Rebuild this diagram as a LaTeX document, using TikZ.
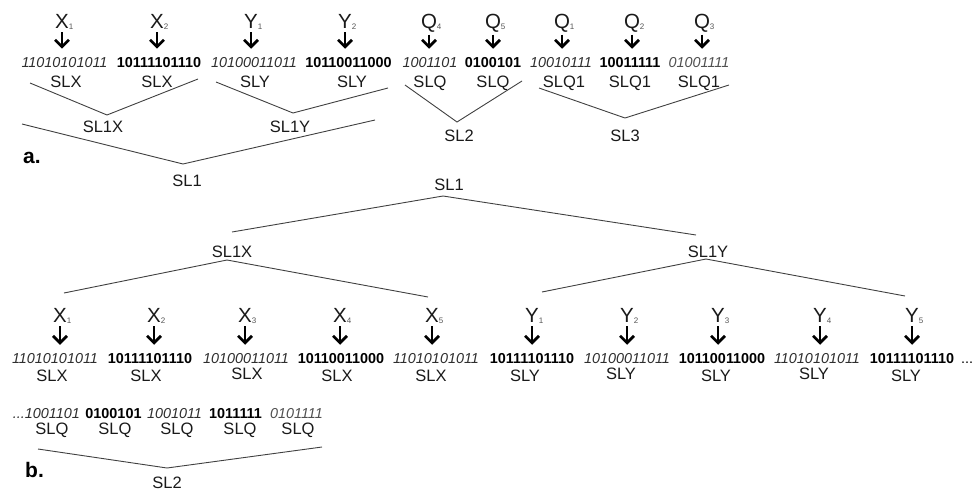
\documentclass[tikz,border=0pt]{standalone}
\usepackage{fontspec}
\setmainfont{Liberation Sans}
\usetikzlibrary{arrows.meta}
\definecolor{lblc}{HTML}{1A1A1A}
\definecolor{itc}{HTML}{2E2E2E}
\definecolor{itl}{HTML}{505050}
\definecolor{linec}{HTML}{404040}
\definecolor{subc}{HTML}{555555}
\newcommand{\vsub}[2]{#1\rlap{\raisebox{-1.5pt}{\textcolor{subc}{\fontsize{8}{8}\selectfont #2}}}}
\tikzset{
  lbl/.style={inner sep=0pt, anchor=base, text=lblc, font=\fontsize{16.5}{18}\selectfont},
  bitsi/.style={inner sep=0pt, anchor=base, text=itc, font=\fontsize{14.4}{16}\selectfont\itshape},
  bitsl/.style={bitsi, text=itl},
  bitsb/.style={inner sep=0pt, anchor=base, text=black, font=\fontsize{14.4}{16}\selectfont\bfseries},
  varlbl/.style={inner sep=0pt, anchor=base, text=lblc, font=\fontsize{20.5}{22}\selectfont},
  downarr/.style={line width=2.7pt, -{Straight Barb[length=7pt,width=14pt]}, shorten <=2.5pt, shorten >=8pt},
  link/.style={draw=linec, line width=0.9pt},
  panel/.style={inner sep=0pt, anchor=base west, font=\fontsize{21}{22}\selectfont\bfseries}
}
\begin{document}
\begin{tikzpicture}[x=1pt,y=-1pt]
\useasboundingbox (0,0) rectangle (976,490);
% ---------------- panel a ----------------
\node[varlbl] (va1) at (62,28) {\vsub{X}{1}};
\node[varlbl] (va2) at (157,28) {\vsub{X}{2}};
\node[varlbl] (va3) at (251,28) {\vsub{Y}{1}};
\node[varlbl] (va4) at (345,28) {\vsub{Y}{2}};
\node[varlbl] (va5) at (429,28) {\vsub{Q}{4}};
\node[varlbl] (va6) at (493,28) {\vsub{Q}{5}};
\node[varlbl] (va7) at (562,28) {\vsub{Q}{1}};
\node[varlbl] (va8) at (632,28) {\vsub{Q}{2}};
\node[varlbl] (va9) at (702,28) {\vsub{Q}{3}};

\node[bitsi] (ba1) at (64.5,67) {11010101011};
\node[bitsb] (ba2) at (159,67) {10111101110};
\node[bitsi] (ba3) at (254,67) {10100011011};
\node[bitsb] (ba4) at (348.5,67) {10110011000};
\node[bitsi] (ba5) at (430,67) {1001101};
\node[bitsb] (ba6) at (493,67) {0100101};
\node[bitsi] (ba7) at (561,67) {10010111};
\node[bitsb] (ba8) at (630,67) {10011111};
\node[bitsl] (ba9) at (699,67) {01001111};

\foreach \i in {1,...,9}{
  \draw[downarr] (va\i.south) -- (va\i.south |- ba\i.north);
}

\node[lbl] (la1) at (66,87) {SLX};
\node[lbl] (la2) at (157,87) {SLX};
\node[lbl] (la3) at (255,87) {SLY};
\node[lbl] (la4) at (352,87) {SLY};
\node[lbl] (la5) at (430,87) {SLQ};
\node[lbl] (la6) at (493,87) {SLQ};
\node[lbl] (la7) at (564,87) {SLQ1};
\node[lbl] (la8) at (630,87) {SLQ1};
\node[lbl] (la9) at (699,87) {SLQ1};

\draw[link] (30,83) -- (107,115) -- (198,79);
\draw[link] (216,82) -- (293,113) -- (388,88);
\draw[link] (22,124) -- (183,164) -- (375,120);
\draw[link] (405,85) -- (457,122) -- (522,81);
\draw[link] (539,88) -- (625,118) -- (729,85);

\node[lbl] (sl1x) at (103,132) {SL1X};
\node[lbl] (sl1y) at (290,132) {SL1Y};
\node[lbl] (sl2a) at (459,141) {SL2};
\node[lbl] (sl3a) at (625,141) {SL3};
\node[lbl] (sl1a) at (187,186) {SL1};
\node[panel] (pa) at (23,163) {a.};

% ---------------- panel b ----------------
\node[lbl] (sl1b) at (449,190) {SL1};
\node[lbl] (sl1xb) at (232,257) {SL1X};
\node[lbl] (sl1yb) at (708,257) {SL1Y};
\draw[link] (232,232) -- (443,196) -- (696,235);
\draw[link] (64,293) -- (227,260) -- (428,297);
\draw[link] (542,292) -- (706,259) -- (905,296);

\node[varlbl] (vb1) at (60,322) {\vsub{X}{1}};
\node[varlbl] (vb2) at (154,322) {\vsub{X}{2}};
\node[varlbl] (vb3) at (245,322) {\vsub{X}{3}};
\node[varlbl] (vb4) at (340,322) {\vsub{X}{4}};
\node[varlbl] (vb5) at (432,322) {\vsub{X}{5}};
\node[varlbl] (vb6) at (532,322) {\vsub{Y}{1}};
\node[varlbl] (vb7) at (627,322) {\vsub{Y}{2}};
\node[varlbl] (vb8) at (718,322) {\vsub{Y}{3}};
\node[varlbl] (vb9) at (820,322) {\vsub{Y}{4}};
\node[varlbl] (vb10) at (912,322) {\vsub{Y}{5}};

\node[bitsi] (bb1) at (55,363) {11010101011};
\node[bitsb] (bb2) at (150,363) {10111101110};
\node[bitsi] (bb3) at (246,363) {10100011011};
\node[bitsb] (bb4) at (341,363) {10110011000};
\node[bitsi] (bb5) at (436,363) {11010101011};
\node[bitsb] (bb6) at (532,363) {10111101110};
\node[bitsi] (bb7) at (627,363) {10100011011};
\node[bitsb] (bb8) at (722,363) {10110011000};
\node[bitsi] (bb9) at (817,363) {11010101011};
\node[bitsb] (bb10) at (912,363) {10111101110};
\node[bitsb, font=\fontsize{14.4}{16}\selectfont, anchor=base west] (bbdots) at (961,363) {...};

\foreach \i in {1,...,10}{
  \draw[downarr] (vb\i.south) -- (vb\i.south |- bb\i.north);
}

\node[lbl] (lb1) at (52,381) {SLX};
\node[lbl] (lb2) at (146,381) {SLX};
\node[lbl] (lb3) at (247,379) {SLX};
\node[lbl] (lb4) at (337,381) {SLX};
\node[lbl] (lb5) at (431,381) {SLX};
\node[lbl] (lb6) at (525,381) {SLY};
\node[lbl] (lb7) at (621,379) {SLY};
\node[lbl] (lb8) at (716,381) {SLY};
\node[lbl] (lb9) at (814,379) {SLY};
\node[lbl] (lb10) at (906,381) {SLY};

\node[bitsi, anchor=base east] (bq1) at (80,418) {...1001101};
\node[bitsb] (bq2) at (113.5,418) {0100101};
\node[bitsi] (bq3) at (174.5,418) {1001011};
\node[bitsb] (bq4) at (235.5,418) {1011111};
\node[bitsl] (bq5) at (296.5,418) {0101111};

\node[lbl] (lq1) at (52,434) {SLQ};
\node[lbl] (lq2) at (115,434) {SLQ};
\node[lbl] (lq3) at (177,434) {SLQ};
\node[lbl] (lq4) at (240,434) {SLQ};
\node[lbl] (lq5) at (298,434) {SLQ};

\draw[link] (38,449) -- (167,468) -- (322,447);
\node[lbl] (sl2b) at (167,488) {SL2};
\node[panel] (pb) at (25,477) {b.};
\end{tikzpicture}
\end{document}
